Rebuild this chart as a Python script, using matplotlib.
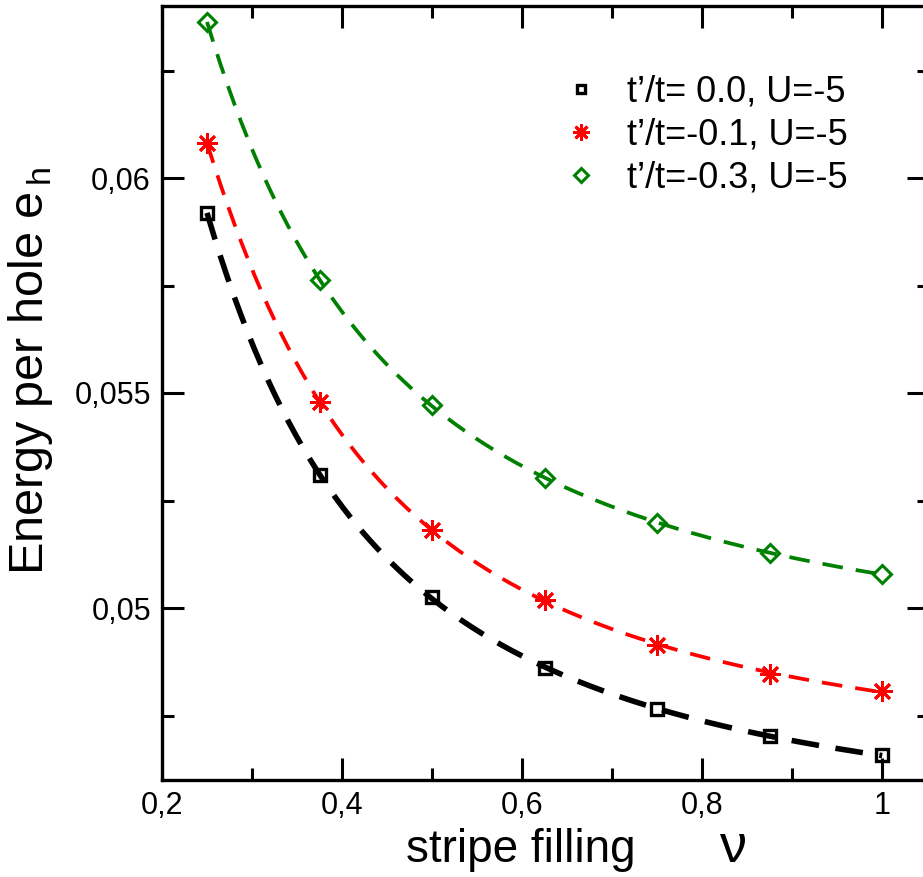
import numpy as np
import matplotlib
matplotlib.use("Agg")
import matplotlib.pyplot as plt
from matplotlib.ticker import FuncFormatter, MultipleLocator

plt.rcParams['font.family'] = ['Liberation Sans', 'DejaVu Sans']

# stripe filling nu
nu = [0.25, 0.375, 0.5, 0.625, 0.75, 0.875, 1.0]

# energy per hole
e_t00 = [0.05919, 0.05309, 0.05026, 0.04860, 0.04765, 0.04702, 0.04658]
e_t01 = [0.06081, 0.05479, 0.05181, 0.05019, 0.04914, 0.04847, 0.04807]
e_t03 = [0.06363, 0.05763, 0.05472, 0.05302, 0.05198, 0.05128, 0.05079]

labels = ["t’/t= 0.0, U=-5", "t’/t=-0.1, U=-5", "t’/t=-0.3, U=-5"]

fig = plt.figure(figsize=(9.23, 8.77), dpi=100)
ax = fig.add_axes([162/923, 97/877, 767/923, 774/877])

def fit_curve(x, y):
    # smooth fit in 1/nu, drawn as dashed line
    p = np.polyfit(1/np.array(x), y, 3)
    xs = np.linspace(min(x), max(x), 200)
    return xs, np.polyval(p, 1/xs)

series = [
    (e_t00, 'black', 's', 8, 4.0, (5.0, 3.0), 2.4),
    (e_t01, 'red', (8, 2, 0), 15, 2.7, (5.5, 3.5), 2.0),
    (e_t03, 'green', 'D', 9.5, 2.7, (5.5, 3.5), 2.2),
]

handles = []
for (y, c, m, ms, lw, dash, mew), lab in zip(series, labels):
    xs, ys = fit_curve(nu, y)
    ax.plot(xs, ys, color=c, lw=lw, dashes=dash)
    h, = ax.plot(nu, y, ls='none', marker=m, ms=ms, mfc='none',
                 mec=c, mew=mew, label=lab)
    handles.append(h)

ax.set_xlim(0.2, 1.052)
ax.set_ylim(0.046, 0.064)

ax.xaxis.set_major_locator(MultipleLocator(0.2))
ax.xaxis.set_minor_locator(MultipleLocator(0.1))
ax.yaxis.set_major_locator(MultipleLocator(0.005))
ax.yaxis.set_minor_locator(MultipleLocator(0.0025))

def comma_fmt(v, pos):
    s = ('%.4f' % v).rstrip('0').rstrip('.')
    return s.replace('.', ',')

ax.xaxis.set_major_formatter(FuncFormatter(comma_fmt))
ax.yaxis.set_major_formatter(FuncFormatter(comma_fmt))

ax.tick_params(which='both', direction='in', top=True, right=True, width=2.2,
               labelsize=22, pad=8)
ax.tick_params(which='major', length=16)
ax.tick_params(which='minor', length=8.5)
for s in ax.spines.values():
    s.set_linewidth(2.4)

# x label: "stripe filling" plus a wider-spaced, larger nu
base_y = (780 - 862) / 774
ax.set_xlabel('stripe filling', fontsize=33, va='baseline')
ax.xaxis.set_label_coords((521 - 162) / 767, base_y)
ax.text((733 - 162) / 767, base_y, 'ν', transform=ax.transAxes, fontsize=39,
        ha='center', va='baseline')

ax.set_ylabel('Energy per hole e$_{\\,\\mathregular{h}}$', fontsize=35)
ax.yaxis.set_label_coords(-0.139, 0.529)

leg = ax.legend(handles=handles, loc='upper left', bbox_to_anchor=(0.483, 0.953),
                frameon=False, fontsize=26, handlelength=0.9, handletextpad=0.82,
                labelspacing=0.22, markerscale=0.8)

fig.savefig('out.png', dpi=100)
